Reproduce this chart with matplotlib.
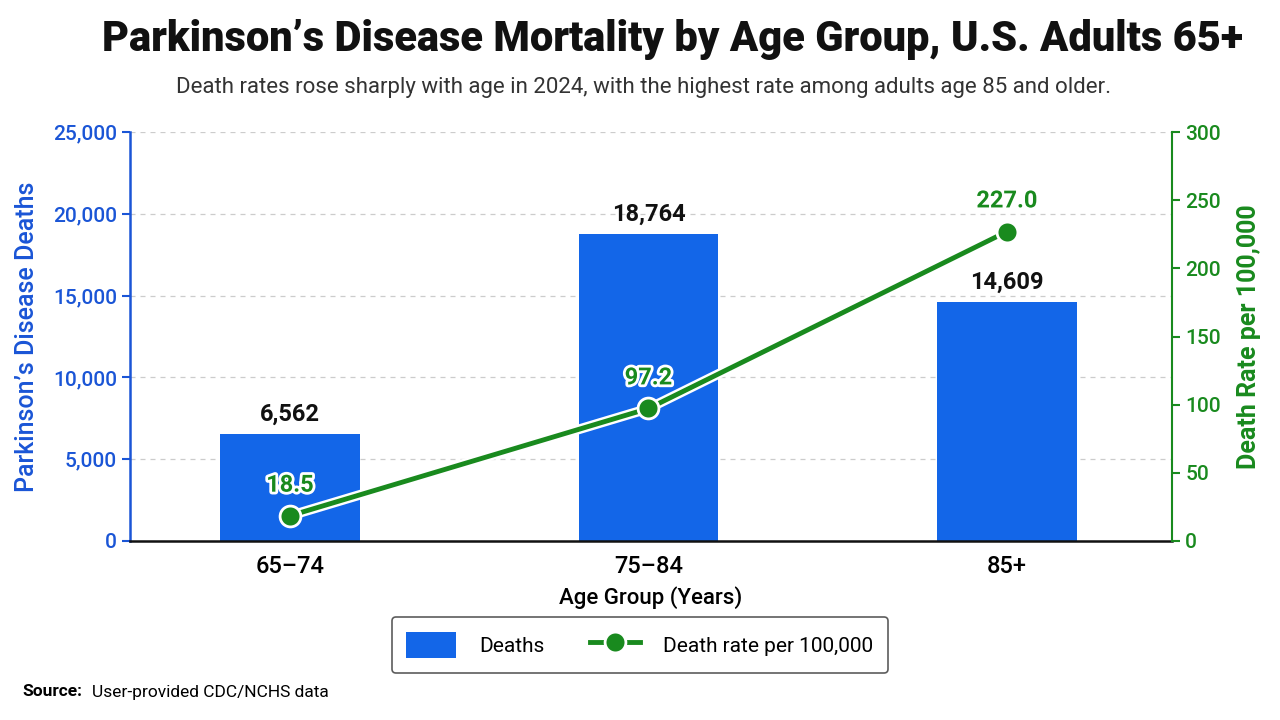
import matplotlib.pyplot as plt
import matplotlib.patheffects as pe
from matplotlib.ticker import FuncFormatter

plt.rcParams['font.family'] = ['Roboto', 'DejaVu Sans']

# data
age_groups = ['65–74', '75–84', '85+']
deaths = [6562, 18764, 14609]
rates = [18.5, 97.2, 227.0]

bar_blue = '#1366E8'
axis_blue = '#1A55D6'
green = '#198A1E'

fig = plt.figure(figsize=(12.8, 7.2), dpi=100)
ax = fig.add_axes([130 / 1280, 1 - 541 / 720, 1042 / 1280, 409 / 720])
ax2 = ax.twinx()

x = range(len(age_groups))
bars = ax.bar(x, deaths, width=0.39, color=bar_blue, zorder=2, label='Deaths')
ax.set_xlim(-0.446, 2.46)
ax.set_ylim(0, 25000)
ax.set_yticks(range(0, 25001, 5000))
ax.yaxis.set_major_formatter(FuncFormatter(lambda v, p: f'{int(v):,}'))
ax.grid(axis='y', linestyle=(0, (4, 4)), color='#cccccc', linewidth=0.9, zorder=0)
ax.set_axisbelow(True)

for b, d in zip(bars, deaths):
    ax.text(b.get_x() + b.get_width() / 2, d + 500, f'{d:,}', ha='center', va='bottom',
            fontsize=17, fontweight='bold', color='#111111')

ax.set_xticks(list(x))
ax.set_xticklabels(age_groups, fontsize=17, fontweight='medium')
ax.tick_params(axis='x', length=0, pad=10)
ax.tick_params(axis='y', colors=axis_blue, labelsize=15, length=6, width=1.5)
for t in ax.get_yticklabels():
    t.set_fontweight('medium')
ax.set_xlabel('Age Group (Years)', fontsize=16, labelpad=6, fontweight='medium')
ax.set_ylabel('Parkinson’s Disease Deaths', fontsize=18, color=axis_blue, labelpad=10,
              fontweight='medium')

for s in ['top', 'right']:
    ax.spines[s].set_visible(False)
ax.spines['left'].set_color(axis_blue)
ax.spines['left'].set_linewidth(1.8)
ax.spines['bottom'].set_color('#111111')
ax.spines['bottom'].set_linewidth(1.8)

# white halo under the rate line
ax2.plot(x, rates, color='white', linewidth=7, solid_capstyle='round', zorder=4)
line, = ax2.plot(x, rates, color=green, linewidth=3.5, marker='o', markersize=15,
                 markerfacecolor=green, markeredgecolor='white', markeredgewidth=2,
                 zorder=5, label='Death rate per 100,000')
ax2.set_ylim(0, 300)
ax2.set_yticks(range(0, 301, 50))
ax2.tick_params(axis='y', colors=green, labelsize=15, length=6, width=1.5)
for t in ax2.get_yticklabels():
    t.set_fontweight('medium')
ax2.set_ylabel('Death Rate per 100,000', fontsize=18, color=green, fontweight='bold',
               labelpad=12)
for s in ['top', 'left', 'bottom']:
    ax2.spines[s].set_visible(False)
ax2.spines['right'].set_color(green)
ax2.spines['right'].set_linewidth(1.5)

for xi, r in zip(x, rates):
    ax2.text(xi, r + 14, f'{r:.1f}', ha='center', va='bottom', fontsize=17,
             fontweight='bold', color=green,
             path_effects=[pe.withStroke(linewidth=4, foreground='white')])

fig.text(0.525, 0.945, 'Parkinson’s Disease Mortality by Age Group, U.S. Adults 65+',
         ha='center', va='center', fontsize=30, fontweight='black', color='#111111')
fig.text(0.503, 0.878, 'Death rates rose sharply with age in 2024, with the highest rate '
         'among adults age 85 and older.', ha='center', va='center', fontsize=16,
         color='#333333')

leg = fig.legend(handles=[bars, line], loc='center', bbox_to_anchor=(640 / 1280, 1 - 645 / 720),
                 ncol=2, fontsize=15, frameon=True, edgecolor='#333333', fancybox=True,
                 handlelength=2.4, handleheight=1.6, columnspacing=2.2, borderpad=0.7,
                 handletextpad=1.1)
leg.get_frame().set_linewidth(1.2)

fig.text(22 / 1280, 1 - 692 / 720, 'Source:', fontsize=12.5, fontweight='bold', va='center')
fig.text(92 / 1280, 1 - 692 / 720, 'User-provided CDC/NCHS data', fontsize=12.5, va='center')

fig.savefig('out.png', dpi=100, facecolor='white')
